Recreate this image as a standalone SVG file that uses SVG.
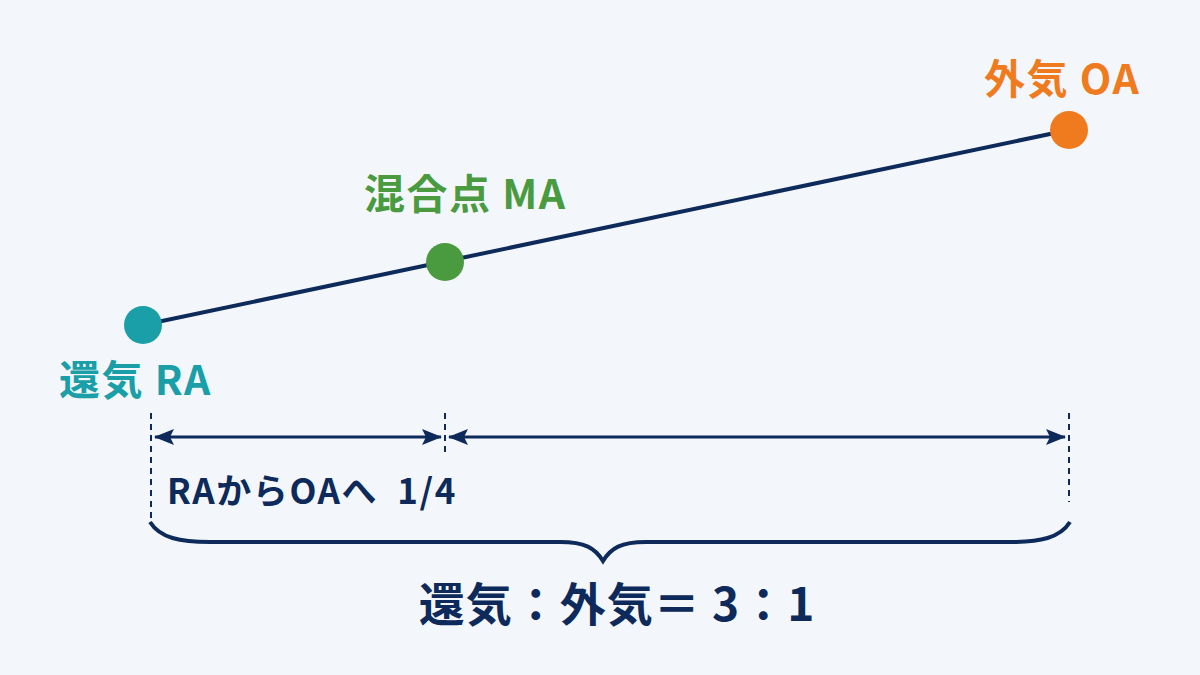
<svg xmlns="http://www.w3.org/2000/svg" width="1200" height="675" viewBox="0 0 1200 675">
<defs>
<style>
.lbl{font-family:"Noto Sans CJK JP","Noto Sans",sans-serif;font-weight:700;font-size:41px;letter-spacing:1.5px}
.dash{stroke:#0d2a5a;stroke-width:2;stroke-dasharray:6 5;fill:none}
.dim{stroke:#0d2a5a;stroke-width:3;fill:none}
</style>
<marker id="a2" viewBox="0 0 20 16" refX="19" refY="8" markerWidth="20" markerHeight="16" markerUnits="userSpaceOnUse" orient="auto-start-reverse">
<path d="M0,0 L20,8 L0,16 L4,8 Z" fill="#0d2a5a"/>
</marker>
</defs>
<rect width="1200" height="675" fill="#f3f7fb"/>
<g id="connectors">
<line x1="143" y1="325" x2="1069" y2="130" stroke="#0d2a5a" stroke-width="4"/>
<line class="dash" x1="151" y1="413" x2="151" y2="522"/>
<line class="dash" x1="445" y1="413" x2="445" y2="455"/>
<line class="dash" x1="1069" y1="413" x2="1069" y2="502"/>
<line class="dim" x1="155" y1="437" x2="441" y2="437" marker-start="url(#a2)" marker-end="url(#a2)"/>
<line class="dim" x1="449" y1="437" x2="1065" y2="437" marker-start="url(#a2)" marker-end="url(#a2)"/>
<path d="M150,522 C160,538 180,542 210,542 L560,542 C585,542 595,548 603,561 C611,548 621,542 646,542 L1010,542 C1040,542 1060,538 1070,522" stroke="#0d2a5a" stroke-width="4" fill="none"/>
</g>
<g id="ra">
<circle cx="143" cy="325" r="19" fill="#1a9ea8"/>
<text class="lbl" x="59" y="395" fill="#1a9ea8">還気 RA</text>
</g>
<g id="ma">
<circle cx="445" cy="262" r="19" fill="#4a9a40"/>
<text class="lbl" x="364" y="209" fill="#4a9a40">混合点 MA</text>
</g>
<g id="oa">
<circle cx="1069" cy="130" r="19" fill="#f07a1e"/>
<text class="lbl" x="984" y="94" fill="#f07a1e">外気 OA</text>
</g>
<g id="labels">
<text x="167" y="504" font-family="'Noto Sans CJK JP','Noto Sans',sans-serif" font-weight="600" font-size="35" letter-spacing="1.6" fill="#0d2a5a" xml:space="preserve">RAからOAへ  1/4</text>
<text x="617" y="621" text-anchor="middle" font-family="'Noto Sans CJK JP','Noto Sans',sans-serif" font-weight="700" font-size="46" letter-spacing="1" fill="#0d2a5a">還気：外気＝ 3：1</text>
</g>
</svg>
